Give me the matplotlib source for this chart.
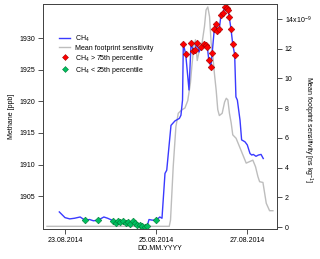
import numpy as np
import pandas as pd
import matplotlib
matplotlib.use("Agg")
import matplotlib.pyplot as plt
import matplotlib.dates as mdates
from matplotlib.lines import Line2D

plt.rcParams['font.family'] = ['Liberation Sans', 'DejaVu Sans']
plt.rcParams['mathtext.fontset'] = 'custom'
plt.rcParams['mathtext.rm'] = 'Liberation Sans'
plt.rcParams['font.size'] = 5

# CH4 time series (ppb)
ch4_time = ["2014-08-22 21:00", "2014-08-23 00:00", "2014-08-23 02:30", "2014-08-23 05:00",
            "2014-08-23 08:00", "2014-08-23 10:30", "2014-08-23 13:00", "2014-08-23 15:00",
            "2014-08-23 17:30", "2014-08-23 20:30", "2014-08-23 22:30", "2014-08-24 01:30",
            "2014-08-24 02:45", "2014-08-24 04:00", "2014-08-24 05:10", "2014-08-24 06:35",
            "2014-08-24 08:00", "2014-08-24 09:15", "2014-08-24 10:25", "2014-08-24 11:50",
            "2014-08-24 12:55", "2014-08-24 14:00", "2014-08-24 15:25", "2014-08-24 16:35",
            "2014-08-24 18:00", "2014-08-24 19:15", "2014-08-24 20:20", "2014-08-24 22:00",
            "2014-08-25 00:10", "2014-08-25 02:00", "2014-08-25 03:10", "2014-08-25 04:45",
            "2014-08-25 05:40", "2014-08-25 07:55", "2014-08-25 10:00", "2014-08-25 12:20",
            "2014-08-25 13:10", "2014-08-25 14:00", "2014-08-25 14:25", "2014-08-25 15:40",
            "2014-08-25 17:25", "2014-08-25 18:30", "2014-08-25 19:40", "2014-08-25 20:35",
            "2014-08-25 21:30", "2014-08-25 22:40", "2014-08-25 23:55", "2014-08-26 01:20",
            "2014-08-26 02:25", "2014-08-26 03:05", "2014-08-26 03:50", "2014-08-26 04:55",
            "2014-08-26 05:40", "2014-08-26 06:45", "2014-08-26 07:40", "2014-08-26 08:20",
            "2014-08-26 09:25", "2014-08-26 10:15", "2014-08-26 11:10", "2014-08-26 12:25",
            "2014-08-26 13:20", "2014-08-26 14:10", "2014-08-26 14:40", "2014-08-26 15:35",
            "2014-08-26 16:30", "2014-08-26 17:30", "2014-08-26 18:10", "2014-08-26 18:55",
            "2014-08-26 20:20", "2014-08-26 21:10", "2014-08-26 22:55", "2014-08-27 00:10",
            "2014-08-27 01:35", "2014-08-27 02:30", "2014-08-27 03:20", "2014-08-27 04:45",
            "2014-08-27 06:00", "2014-08-27 07:25", "2014-08-27 08:35"]
ch4_ppb = [1902.5, 1901.6, 1901.4, 1901.5,
           1901.7, 1901.2, 1901.3, 1901.1,
           1901.2, 1901.7, 1901.5, 1901.1,
           1900.8, 1901.0, 1900.9, 1901.0,
           1900.8, 1900.9, 1900.6, 1901.1,
           1900.7, 1900.5, 1900.4, 1900.25,
           1900.15, 1900.2, 1901.3, 1901.2,
           1901.2, 1901.7, 1901.5, 1908.6,
           1909.1, 1916.2, 1916.9, 1917.3,
           1917.8, 1920.2, 1929.05, 1927.5,
           1921.8, 1929.2, 1928.0, 1928.1,
           1929.3, 1927.8, 1928.6, 1929.05,
           1928.9, 1928.6, 1926.6, 1925.5,
           1927.7, 1931.4, 1932.3, 1931.2,
           1931.5, 1933.6, 1933.9, 1935.0,
           1934.7, 1934.4, 1933.3, 1931.4,
           1929.0, 1927.4, 1920.7, 1920.2,
           1917.0, 1913.9, 1913.6, 1913.1,
           1911.75, 1911.5, 1911.6, 1911.3,
           1911.5, 1911.6, 1910.95]

# CH4 > 75th percentile
high_time = ["2014-08-25 14:25", "2014-08-25 15:40", "2014-08-25 18:30", "2014-08-25 19:40",
             "2014-08-25 20:35", "2014-08-25 21:30", "2014-08-25 23:55", "2014-08-26 01:20",
             "2014-08-26 02:25", "2014-08-26 03:05", "2014-08-26 03:50", "2014-08-26 04:55",
             "2014-08-26 05:40", "2014-08-26 06:45", "2014-08-26 07:40", "2014-08-26 08:20",
             "2014-08-26 09:25", "2014-08-26 10:15", "2014-08-26 11:10", "2014-08-26 12:25",
             "2014-08-26 13:20", "2014-08-26 14:10", "2014-08-26 14:40", "2014-08-26 15:35",
             "2014-08-26 16:30", "2014-08-26 17:30"]
high_ppb = [1929.05, 1927.5, 1929.2, 1928.0,
            1928.1, 1929.3, 1928.6, 1929.05,
            1928.9, 1928.6, 1926.6, 1925.5,
            1927.7, 1931.4, 1932.3, 1931.2,
            1931.5, 1933.6, 1933.9, 1935.0,
            1934.7, 1934.4, 1933.3, 1931.4,
            1929.0, 1927.4]

# CH4 < 25th percentile
low_time = ["2014-08-23 10:30", "2014-08-23 17:30", "2014-08-24 01:30", "2014-08-24 02:45",
            "2014-08-24 04:00", "2014-08-24 05:10", "2014-08-24 06:35", "2014-08-24 08:00",
            "2014-08-24 09:15", "2014-08-24 10:25", "2014-08-24 11:50", "2014-08-24 12:55",
            "2014-08-24 14:00", "2014-08-24 15:25", "2014-08-24 16:35", "2014-08-24 18:00",
            "2014-08-24 19:15", "2014-08-25 00:10"]
low_ppb = [1901.2, 1901.2, 1901.1, 1900.8,
           1901.0, 1900.9, 1901.0, 1900.8,
           1900.9, 1900.6, 1901.1, 1900.7,
           1900.5, 1900.4, 1900.25, 1900.15,
           1900.2, 1901.2]

# mean footprint sensitivity (x 1e-9 ns kg-1)
fp_time = ["2014-08-22 14:30", "2014-08-25 07:00", "2014-08-25 07:40", "2014-08-25 09:05",
           "2014-08-25 10:30", "2014-08-25 11:45", "2014-08-25 13:30", "2014-08-25 15:15",
           "2014-08-25 16:45", "2014-08-25 18:10", "2014-08-25 18:55", "2014-08-25 19:55",
           "2014-08-25 20:50", "2014-08-25 21:45", "2014-08-25 22:55", "2014-08-26 00:20",
           "2014-08-26 01:35", "2014-08-26 02:25", "2014-08-26 03:20", "2014-08-26 04:15",
           "2014-08-26 05:05", "2014-08-26 06:00", "2014-08-26 06:50", "2014-08-26 07:45",
           "2014-08-26 08:35", "2014-08-26 09:25", "2014-08-26 10:55", "2014-08-26 12:10",
           "2014-08-26 13:05", "2014-08-26 13:55", "2014-08-26 14:45", "2014-08-26 15:40",
           "2014-08-26 16:30", "2014-08-26 18:15", "2014-08-26 20:05", "2014-08-26 21:50",
           "2014-08-26 23:35", "2014-08-27 01:20", "2014-08-27 03:05", "2014-08-27 04:30",
           "2014-08-27 05:45", "2014-08-27 06:40", "2014-08-27 08:25", "2014-08-27 10:10",
           "2014-08-27 11:55", "2014-08-27 13:40"]
fp_e9 = [0.05, 0.05, 0.47, 4.06,
         6.75, 7.65, 7.87, 8.0,
         8.5, 9.7, 10.8, 12.1,
         12.6, 11.2, 11.9, 12.4,
         13.5, 14.6, 14.8, 14.15,
         12.4, 11.5, 10.3, 9.2,
         7.9, 7.5, 7.65, 8.4,
         8.66, 8.55, 7.65, 7.0,
         6.2, 5.97, 5.4, 4.85,
         4.3, 4.4, 4.5, 4.06,
         3.4, 3.05, 3.0, 1.6,
         1.1, 1.1]

right_ticks = [0, 2, 4, 6, 8, 10, 12, 14]
date_ticks = ["2014-08-23", "2014-08-25", "2014-08-27"]

fig = plt.figure(figsize=(3.2, 2.59), dpi=100)
ax = fig.add_axes([43 / 320, 30 / 259, 234 / 320, 225 / 259])
ax2 = ax.twinx()
ax.set_zorder(ax2.get_zorder() + 1)
ax.patch.set_visible(False)

ax2.plot(pd.to_datetime(fp_time), fp_e9, color='#bdbdbd', lw=1.0)
ax.plot(pd.to_datetime(ch4_time), ch4_ppb, color='#3a3aff', lw=1.0)
ax.plot(pd.to_datetime(high_time), high_ppb, ls='none', marker='D', ms=3.4,
        mfc='#ff0000', mec='#a00000', mew=0.4)
ax.plot(pd.to_datetime(low_time), low_ppb, ls='none', marker='D', ms=3.4,
        mfc='#00c060', mec='#007a35', mew=0.4)

ax.set_xlim(pd.Timestamp("2014-08-22 12:24"), pd.Timestamp("2014-08-27 15:50"))
ax.set_ylim(1899.8, 1935.4)
ax2.set_ylim(-0.13, 15.0)

ax.set_yticks([1905, 1910, 1915, 1920, 1925, 1930])
ax.set_xticks(pd.to_datetime(date_ticks))
ax.xaxis.set_major_formatter(mdates.DateFormatter('%d.%m.%Y'))
ax2.set_yticks(right_ticks)
ax2.set_yticklabels([str(t) for t in right_ticks[:-1]] + ['$\\mathregular{14x10^{-9}}$'])

for a in (ax, ax2):
    a.tick_params(direction='out', length=3.5, width=0.6, labelsize=5, pad=2, color='#333333')
    for s in a.spines.values():
        s.set_linewidth(0.7)
        s.set_color('#444444')

ax.set_ylabel('Methane [ppb]', fontsize=5, labelpad=3)
ax.set_xlabel('DD.MM.YYYY', fontsize=5, labelpad=1)
ax2.set_ylabel('Mean footprint sensitivity [ns kg$^{\\mathregular{-1}}$]', fontsize=5,
               rotation=270, labelpad=5)
ax2.yaxis.set_label_coords(1.16, 0.44)

handles = [
    Line2D([], [], color='#3a3aff', lw=1.0),
    Line2D([], [], color='#bdbdbd', lw=1.0),
    Line2D([], [], ls='none', marker='D', ms=3.0, mfc='#ff0000', mec='#a00000', mew=0.4),
    Line2D([], [], ls='none', marker='D', ms=3.0, mfc='#00c060', mec='#007a35', mew=0.4),
]
labels = ['CH$_\\mathregular{4}$', 'Mean footprint sensitivity',
          'CH$_\\mathregular{4}$ > 75th percentile', 'CH$_\\mathregular{4}$ < 25th percentile']
ax.legend(handles, labels, loc='upper left', bbox_to_anchor=(0.055, 0.885), frameon=False,
          fontsize=5, handlelength=1.6, handletextpad=0.6, labelspacing=0.15, borderpad=0)

fig.savefig('out.png', dpi=100)
